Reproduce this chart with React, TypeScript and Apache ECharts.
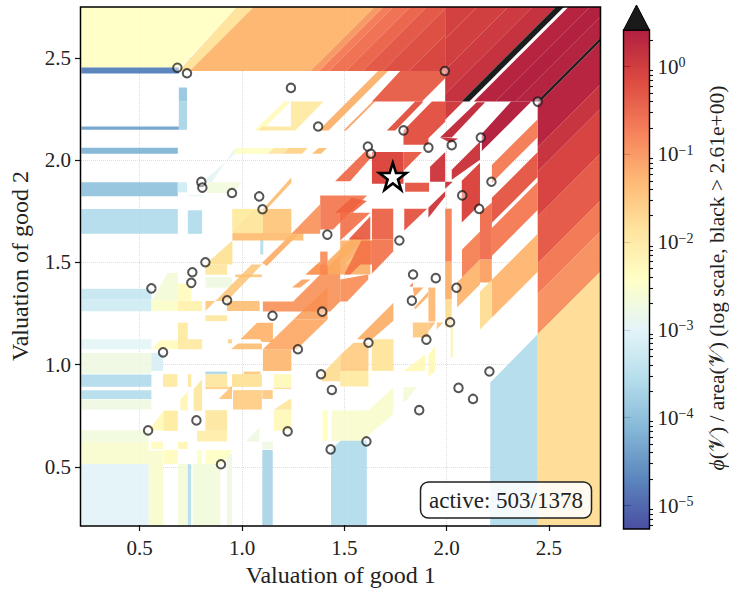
import React, { useEffect, useRef } from "react";
import * as echarts from "echarts";

// Each cell: [log10 of phi/area, then polygon vertices x,y,... in valuation units; 4 numbers = rectangle corners]
const outerCells: number[][] = [
  [-2.42, 0.215, 2.75, 0.975, 2.75, 0.699, 2.454, 0.215, 2.454],
  [-1.86, 0.975, 2.75, 1.057, 2.75, 0.744, 2.437, 0.69, 2.437],
  [-1.29, 1.057, 2.75, 1.647, 2.75, 1.334, 2.437, 0.744, 2.437],
  [-1.0, 1.647, 2.75, 1.69, 2.75, 1.377, 2.437, 1.334, 2.437],
  [-0.72, 1.69, 2.75, 1.739, 2.75, 1.426, 2.437, 1.377, 2.437],
  [-0.6, 1.739, 2.75, 1.82, 2.75, 1.507, 2.437, 1.426, 2.437],
  [-0.48, 1.82, 2.75, 1.902, 2.75, 1.589, 2.437, 1.507, 2.437],
  [-0.33, 1.902, 2.75, 1.993, 2.75, 1.993, 2.743, 1.687, 2.437, 1.589, 2.437],
  [-0.22, 1.993, 2.743, 1.993, 2.613, 1.817, 2.437, 1.687, 2.437],
  [-0.12, 1.993, 2.613, 1.993, 2.437, 1.817, 2.437],
  [-0.04, 1.993, 2.75, 2.15, 2.75, 1.993, 2.593],
  [-0.02, 2.15, 2.75, 2.3, 2.75, 1.993, 2.443, 1.993, 2.593],
  [0.04, 2.3, 2.75, 2.42, 2.75, 1.993, 2.323, 1.993, 2.443],
  [0.14, 2.42, 2.75, 2.534, 2.75, 2.072, 2.288, 1.993, 2.288, 1.993, 2.323],
  [0.6, 2.534, 2.75, 2.573, 2.75, 2.111, 2.288, 2.072, 2.288],
  [0.34, 2.595, 2.75, 2.7, 2.75, 2.238, 2.288, 2.133, 2.288],
  [0.39, 2.7, 2.75, 2.75, 2.75, 2.75, 2.7, 2.338, 2.288, 2.238, 2.288],
  [0.36, 2.75, 2.7, 2.75, 2.597, 2.441, 2.288, 2.338, 2.288],
  [0.6, 2.75, 2.597, 2.75, 2.58, 2.458, 2.288, 2.441, 2.288],
  [0.33, 2.75, 2.58, 2.75, 2.37, 2.445, 2.065, 2.445, 2.275],
  [0.12, 2.75, 2.37, 2.75, 2.25, 2.445, 1.945, 2.445, 2.065],
  [-0.08, 2.75, 2.25, 2.75, 2.03, 2.445, 1.725, 2.445, 1.945],
  [-0.36, 2.75, 2.03, 2.75, 1.8, 2.445, 1.495, 2.445, 1.725],
  [-0.68, 2.75, 1.8, 2.75, 1.65, 2.445, 1.345, 2.445, 1.495],
  [-0.92, 2.75, 1.65, 2.75, 1.453, 2.445, 1.148, 2.445, 1.345],
  [-1.78, 2.445, 1.148, 2.75, 1.453, 2.75, 0.215, 2.445, 0.215],
  [-3.55, 2.213, 0.912, 2.445, 1.148, 2.445, 0.215, 2.213, 0.215],
  [-3.55, 1.435, 0.586, 1.485, 0.63, 1.61, 0.63, 1.61, 0.215, 1.435, 0.215],
];

const leftCells: number[][] = [
  [-4.7, 0.215, 2.454, 0.691, 2.424],
  [-3.85, 0.691, 2.356, 0.731, 2.288],
  [-3.65, 0.691, 2.288, 0.731, 2.149],
  [-4.3, 0.215, 2.165, 0.691, 2.149],
  [-4.1, 0.215, 2.061, 0.686, 2.032],
  [-3.9, 0.215, 1.892, 0.686, 1.824],
  [-3.2, 0.686, 1.892, 0.731, 1.843],
  [-3.55, 0.215, 1.762, 0.686, 1.64],
  [-3.55, 0.735, 1.755, 0.805, 1.64],
  [-3.0, 0.735, 1.829, 0.805, 1.824],
  [-2.95, 0.805, 1.892, 0.853, 1.892, 0.962, 2.055, 0.992, 2.055],
  [-2.7, 0.829, 1.892, 1.0, 1.892, 0.951, 1.84, 0.829, 1.84],
  [-3.3, 0.215, 1.371, 0.557, 1.32],
  [-3.2, 0.215, 1.32, 0.557, 1.261],
  [-2.95, 0.215, 1.124, 0.557, 1.075],
  [-2.75, 0.215, 1.057, 0.557, 0.957],
  [-3.1, 0.557, 1.057, 0.614, 0.969],
  [-3.55, 0.215, 0.952, 0.557, 0.891],
  [-3.5, 0.215, 0.874, 0.557, 0.832],
  [-2.75, 0.215, 0.829, 0.557, 0.78],
  [-2.7, 0.215, 0.679, 0.544, 0.624],
  [-2.55, 0.215, 0.622, 0.544, 0.513],
  [-2.98, 0.215, 0.513, 0.544, 0.215],
  [-2.55, 0.544, 0.58, 0.614, 0.215],
  [-2.65, 0.687, 0.513, 0.735, 0.215],
  [-3.5, 0.735, 0.513, 0.751, 0.215],
  [-2.68, 0.759, 0.513, 0.894, 0.215],
  [-2.75, 0.927, 0.562, 0.951, 0.215],
  [-3.65, 1.099, 0.582, 1.15, 0.215],
  [-2.75, 1.099, 0.622, 1.15, 0.587],
  [-3.5, 1.089, 1.612, 1.104, 1.539],
  [-3.6, 0.821, 0.966, 0.927, 0.953],
];

const yellowCells: number[][] = [
  [-2.45, 0.951, 2.032, 0.972, 2.06, 1.155, 2.06, 1.125, 2.032],
  [-1.95, 1.125, 2.032, 1.155, 2.06, 1.228, 2.06, 1.203, 2.032],
  [-1.65, 1.203, 2.032, 1.228, 2.06, 1.321, 2.06, 1.293, 2.032],
  [-1.4, 1.342, 2.032, 1.374, 2.06, 1.415, 2.06, 1.386, 2.032],
  [-2.35, 1.06, 2.146, 1.207, 2.288, 1.239, 2.288, 1.098, 2.146],
  [-1.95, 1.098, 2.165, 1.239, 2.165, 1.239, 2.146, 1.081, 2.146],
  [-2.0, 1.239, 2.288, 1.399, 2.288, 1.26, 2.146, 1.239, 2.146],
  [-2.65, 0.557, 1.314, 0.637, 1.449, 0.687, 1.449, 0.687, 1.314],
  [-2.5, 0.557, 1.314, 0.687, 1.262],
  [-2.35, 0.687, 1.397, 0.739, 1.397, 0.752, 1.367, 0.752, 1.311, 0.687, 1.311],
  [-2.15, 0.687, 1.311, 0.805, 1.262],
  [-1.95, 0.821, 1.49, 0.927, 1.44],
  [-2.75, 0.821, 1.428, 0.951, 1.376],
  [-1.95, 0.821, 1.241, 0.927, 1.213],
  [-2.0, 0.687, 1.205, 0.735, 1.075],
  [-2.0, 0.735, 1.124, 0.805, 1.075],
  [-2.35, 0.557, 1.075, 0.6, 1.119, 0.687, 1.119, 0.687, 1.075],
  [-1.65, 0.931, 1.124, 0.951, 1.104],
  [-1.9, 0.953, 1.762, 1.102, 1.64],
  [-2.1, 0.953, 1.762, 1.065, 1.762, 0.953, 1.65],
  [-1.5, 1.102, 1.762, 1.241, 1.64],
  [-1.85, 0.821, 1.49, 0.953, 1.607, 0.953, 1.49],
  [-2.0, 0.614, 0.953, 0.684, 0.891],
  [-1.95, 0.735, 0.953, 0.752, 0.891],
  [-1.95, 0.821, 0.953, 0.927, 0.891],
  [-1.65, 0.821, 0.891, 0.951, 0.88],
  [-1.85, 0.951, 0.953, 1.097, 0.891],
  [-1.55, 1.008, 0.966, 1.09, 0.953],
  [-1.95, 0.764, 0.88, 0.805, 0.928, 0.805, 0.774, 0.764, 0.774],
  [-2.25, 0.699, 0.831, 0.735, 0.871, 0.735, 0.777, 0.699, 0.777],
  [-2.3, 0.544, 0.679, 0.617, 0.774, 0.686, 0.774, 0.686, 0.676],
  [-2.05, 0.617, 0.774, 0.686, 0.676],
  [-1.95, 0.821, 0.777, 0.927, 0.676],
  [-2.1, 0.78, 0.676, 0.927, 0.624],
  [-1.5, 0.886, 0.832, 0.951, 0.896, 0.951, 0.832],
  [-1.6, 0.956, 0.875, 1.097, 0.78],
  [-1.55, 1.099, 0.875, 1.15, 0.832],
  [-2.3, 1.155, 0.953, 1.241, 0.891],
  [-1.85, 1.155, 0.888, 1.241, 0.88],
  [-1.95, 1.155, 0.779, 1.232, 0.831, 1.241, 0.831, 1.241, 0.779],
  [-2.3, 1.155, 0.777, 1.241, 0.676],
  [-2.75, 1.019, 0.624, 1.084, 0.692, 1.084, 0.624],
  [-2.45, 0.78, 0.582, 0.805, 0.513],
  [-2.45, 0.821, 0.582, 0.951, 0.582, 0.91, 0.513, 0.821, 0.513],
  [-2.35, 0.557, 0.622, 0.614, 0.587],
  [-2.35, 0.617, 0.582, 0.686, 0.513],
  [-2.25, 0.687, 0.622, 0.735, 0.587],
  [-2.55, 1.48, 0.627, 1.48, 0.774, 1.618, 0.777, 1.74, 0.888, 1.74, 0.757, 1.586, 0.627],
  [-2.4, 1.393, 0.777, 1.418, 0.627],
  [-2.55, 1.439, 0.777, 1.48, 0.627],
  [-2.0, 1.48, 0.969, 1.618, 0.893],
  [-1.9, 1.635, 1.124, 1.74, 0.969],
  [-1.6, 1.48, 0.969, 1.48, 1.047, 1.545, 1.107, 1.618, 1.107, 1.618, 0.969],
  [-1.8, 1.391, 0.919, 1.391, 0.954, 1.48, 1.047, 1.48, 0.919],
  [-2.3, 1.789, 0.969, 1.895, 1.05, 1.895, 0.969],
  [-2.3, 1.911, 0.938, 1.944, 0.967, 1.944, 1.089, 1.911, 1.05],
  [-2.65, 1.789, 0.816, 1.789, 0.889, 1.854, 0.889, 1.805, 0.825],
  [-2.2, 2.02, 1.186, 2.03, 1.036],
];

const orangeCells: number[][] = [
  [-1.55, 0.821, 1.262, 1.047, 1.49, 1.097, 1.49, 0.927, 1.311, 0.821, 1.311],
  [-1.45, 0.927, 1.311, 1.086, 1.262],
  [-1.5, 0.967, 1.441, 1.097, 1.428],
  [-1.45, 0.946, 1.075, 0.98, 1.103, 1.097, 1.103, 1.097, 1.075],
  [-1.3, 0.992, 1.124, 1.073, 1.205, 1.151, 1.205, 1.151, 1.11, 1.097, 1.11, 1.087, 1.124],
  [-1.35, 1.102, 1.075, 1.241, 0.969],
  [-1.2, 1.102, 1.075, 1.252, 1.221, 1.418, 1.221, 1.268, 1.075],
  [-1.15, 1.251, 1.221, 1.417, 1.377, 1.418, 1.221],
  [-1.0, 1.102, 1.26, 1.102, 1.309, 1.25, 1.309, 1.48, 1.539, 1.48, 1.309, 1.431, 1.26],
  [-1.15, 1.244, 1.377, 1.293, 1.416, 1.334, 1.416, 1.285, 1.377],
  [-0.9, 1.317, 1.441, 1.366, 1.49, 1.421, 1.49, 1.421, 1.441],
  [-1.25, 1.098, 1.498, 1.239, 1.637, 1.275, 1.637, 1.121, 1.482],
  [-1.1, 1.309, 1.441, 1.382, 1.506, 1.382, 1.441],
  [-0.95, 1.382, 1.553, 1.418, 1.441],
  [-1.25, 1.418, 1.441, 1.418, 1.506, 1.545, 1.628, 1.627, 1.612, 1.627, 1.441],
  [-1.4, 0.953, 1.643, 1.3, 1.607],
  [-1.0, 1.241, 1.64, 1.382, 1.785, 1.382, 1.64],
  [-1.4, 1.099, 1.758, 1.241, 1.915, 1.241, 1.89, 1.123, 1.763],
  [-1.25, 1.374, 2.146, 1.423, 2.146, 1.714, 2.437, 1.665, 2.437],
  [-1.1, 1.496, 2.146, 1.509, 2.146, 1.651, 2.288, 1.638, 2.288],
  [-1.3, 1.48, 1.607, 1.583, 1.607, 1.48, 1.504],
  [-1.55, 1.499, 1.49, 1.613, 1.607, 1.618, 1.56, 1.546, 1.49],
  [-1.25, 1.561, 1.124, 1.74, 1.303, 1.74, 1.214, 1.635, 1.124],
  [-1.2, 1.835, 1.377, 1.887, 1.377, 1.841, 1.329],
  [-1.3, 1.841, 1.28, 1.91, 1.358, 1.91, 1.333, 1.846, 1.27],
  [-1.35, 1.911, 1.377, 1.945, 1.211],
  [-1.45, 1.911, 1.206, 1.945, 1.206, 1.911, 1.162],
  [-1.55, 1.835, 1.206, 1.911, 1.133],
  [-1.5, 1.952, 1.172, 1.983, 1.206, 1.952, 1.206],
  [-1.25, 1.993, 1.504, 2.025, 1.319],
  [-1.8, 1.993, 1.319, 2.025, 1.186],
  [-1.1, 2.163, 1.514, 2.221, 1.402],
  [-1.3, 2.075, 1.426, 2.163, 1.514, 2.163, 1.392, 2.051, 1.28, 2.051, 1.402],
  [-1.3, 2.445, 1.64, 2.445, 1.454, 2.221, 1.23, 2.221, 1.415],
  [-1.8, 2.221, 1.415, 2.221, 1.23, 2.163, 1.172, 2.163, 1.358],
];

const redCells: number[][] = [
  [-0.75, 1.382, 1.827, 1.611, 1.827, 1.445, 1.661, 1.382, 1.661],
  [-0.6, 1.455, 1.743, 1.536, 1.816, 1.61, 1.8, 1.54, 1.743],
  [-0.7, 1.48, 1.743, 1.627, 1.743, 1.48, 1.607],
  [-0.45, 1.52, 1.612, 1.627, 1.726, 1.627, 1.612],
  [-0.5, 1.635, 1.763, 1.739, 1.612],
  [-0.7, 1.635, 1.612, 1.739, 1.612, 1.739, 1.553, 1.635, 1.446],
  [-0.75, 1.583, 1.607, 1.635, 1.607, 1.635, 1.49, 1.578, 1.49, 1.529, 1.441, 1.5, 1.441],
  [-0.95, 1.48, 1.416, 1.617, 1.441, 1.617, 1.416, 1.514, 1.309, 1.48, 1.309],
  [-0.6, 1.455, 1.897, 1.606, 2.048, 1.635, 2.018, 1.528, 1.897],
  [-0.42, 1.773, 2.437, 1.993, 2.437, 1.993, 2.401, 1.879, 2.287, 1.635, 2.287],
  [-0.3, 1.708, 2.146, 1.846, 2.287, 1.887, 2.287, 1.749, 2.146],
  [-0.28, 1.789, 2.076, 1.911, 2.076, 1.911, 2.108, 1.993, 2.189, 1.993, 2.287, 1.928, 2.287, 1.789, 2.146],
  [0.02, 1.993, 2.287, 2.082, 2.287, 1.993, 2.198],
  [0.18, 1.968, 2.111, 2.147, 2.284, 2.188, 2.284, 2.025, 2.111],
  [0.12, 1.968, 2.111, 2.056, 2.106, 2.02, 2.085],
  [0.35, 2.315, 2.287, 2.414, 2.287, 2.172, 2.045, 2.172, 2.13],
  [-0.15, 1.635, 2.04, 1.789, 1.885],
  [-0.4, 1.789, 2.04, 1.88, 2.04, 1.789, 1.949],
  [-0.35, 1.797, 1.89, 1.914, 1.846],
  [-0.35, 1.793, 1.763, 1.905, 1.763, 1.793, 1.656],
  [0.02, 1.919, 1.968, 1.993, 2.041, 1.993, 1.895, 1.919, 1.895],
  [0.0, 1.911, 1.768, 1.993, 1.848, 1.993, 1.823, 1.911, 1.719],
  [0.02, 1.993, 1.895, 2.03, 1.895, 1.993, 1.86],
  [0.06, 2.025, 1.954, 2.163, 2.092, 2.163, 2.002, 2.025, 1.905],
  [-0.14, 2.074, 1.695, 2.074, 1.9, 2.163, 1.988, 2.163, 1.783],
  [-0.8, 1.993, 1.763, 2.025, 1.504],
  [-0.6, 2.163, 1.744, 2.221, 1.793, 2.221, 1.514, 2.163, 1.514],
  [-0.8, 2.075, 1.563, 2.163, 1.651, 2.163, 1.514, 2.075, 1.426],
  [-0.75, 2.445, 2.201, 2.445, 2.113, 2.221, 1.889, 2.221, 1.977],
  [-0.35, 2.445, 2.04, 2.445, 1.918, 2.221, 1.694, 2.221, 1.816],
  [-0.72, 2.445, 1.894, 2.445, 1.757, 2.221, 1.532, 2.221, 1.669],
  [-0.8, 1.817, 1.382, 1.835, 1.402, 1.835, 1.382],
];

const valuationX = [0.684, 0.731, 1.239, 1.372, 1.991, 2.445, 1.789, 1.615, 1.63, 1.911, 2.025, 2.167, 2.219, 2.076, 2.159, 1.769, 1.417, 0.951, 0.801, 0.806, 1.084, 1.1, 0.821, 0.757, 0.752, 0.557, 0.927, 1.149, 1.392, 0.614, 1.273, 1.386, 1.439, 0.777, 0.541, 1.223, 1.433, 0.897, 1.836, 1.947, 2.048, 1.83, 2.017, 1.901, 1.618, 2.209, 2.058, 2.129, 1.866, 1.608];
const valuationY = [2.453, 2.426, 2.354, 2.165, 2.437, 2.287, 2.146, 2.067, 2.032, 2.062, 2.074, 2.111, 1.895, 1.828, 1.762, 1.607, 1.636, 1.84, 1.894, 1.866, 1.823, 1.76, 1.501, 1.452, 1.4, 1.373, 1.315, 1.239, 1.259, 1.06, 1.075, 0.953, 0.876, 0.727, 0.678, 0.673, 0.585, 0.512, 1.441, 1.423, 1.376, 1.313, 1.207, 1.122, 1.107, 0.966, 0.886, 0.832, 0.777, 0.624];
const starPoint = [1.737, 1.921];

const axisTicks = [0.5, 1.0, 1.5, 2.0, 2.5];
const colorbarMajor = [1e-5, 1e-4, 1e-3, 1e-2, 1e-1, 1];
const colorbarMinor = [
  6e-6, 7e-6, 8e-6, 9e-6,
  2e-5, 3e-5, 4e-5, 5e-5, 6e-5, 7e-5, 8e-5, 9e-5,
  2e-4, 3e-4, 4e-4, 5e-4, 6e-4, 7e-4, 8e-4, 9e-4,
  2e-3, 3e-3, 4e-3, 5e-3, 6e-3, 7e-3, 8e-3, 9e-3,
  2e-2, 3e-2, 4e-2, 5e-2, 6e-2, 7e-2, 8e-2, 9e-2,
  2e-1, 3e-1, 4e-1, 5e-1, 6e-1, 7e-1, 8e-1, 9e-1, 2,
];
const colorMin = 5.4e-6;
const colorMax = 2.61;
const rampStops = ["#313695", "#4575b4", "#74add1", "#abd9e9", "#e0f3f8", "#ffffbf", "#fee090", "#fdae61", "#f46d43", "#d73027", "#a50026"];

const ALPHA = 0.88;
const hexRgb = (h: string) => [1, 3, 5].map((i) => parseInt(h.slice(i, i + 2), 16));
function rampColor(logV: number): string {
  if (logV >= Math.log10(colorMax)) return "rgba(20,20,20,0.96)";
  const lo = Math.log10(colorMin);
  const hi = Math.log10(colorMax);
  const t = Math.max(0, Math.min(1, (logV - lo) / (hi - lo))) * (rampStops.length - 1);
  const i = Math.min(rampStops.length - 2, Math.floor(t));
  const a = hexRgb(rampStops[i]);
  const b = hexRgb(rampStops[i + 1]);
  const f = t - i;
  const c = a.map((v, k) => Math.round(v + (b[k] - v) * f));
  return `rgba(${c[0]},${c[1]},${c[2]},${ALPHA})`;
}

const allCells = [...outerCells, ...leftCells, ...yellowCells, ...orangeCells, ...redCells];
const SERIF = "'Liberation Serif', 'DejaVu Serif', serif";
const STAR = "path://M50 0 L61.8 35.5 L100 35.5 L69.1 58 L80.9 95 L50 72 L19.1 95 L30.9 58 L0 35.5 L38.2 35.5 Z";

export default function App() {
  const ref = useRef<HTMLDivElement>(null);
  useEffect(() => {
    document.body.style.margin = "0";
    const chart = echarts.init(ref.current!, null, { renderer: "svg" });
    const axisText = { fontFamily: SERIF, fontSize: 21, color: "#222" };
    const plotAxis = (name: string, min: number, max: number, gap: number, margin: number) => ({
      type: "value",
      min,
      max,
      name,
      nameLocation: "middle",
      nameGap: gap,
      nameTextStyle: { fontFamily: SERIF, fontSize: 24, color: "#222" },
      axisLine: { show: false },
      axisTick: { show: true, length: 6, customValues: axisTicks, lineStyle: { color: "#111", width: 1.2 } },
      axisLabel: { ...axisText, margin, customValues: axisTicks, formatter: (v: number) => v.toFixed(1) },
      splitLine: { show: true, lineStyle: { color: "#dddddd", type: "dotted", width: 1 } },
    });
    const barAxis = (values: number[], len: number, labels: boolean) => ({
      type: "log",
      logBase: 10,
      gridIndex: 1,
      position: "right",
      min: colorMin,
      max: colorMax,
      axisLine: { show: false },
      axisTick: { show: true, length: len, customValues: values, lineStyle: { color: "#111", width: 1.1 } },
      splitLine: { show: false },
      minorTick: { show: false },
      axisLabel: labels
        ? {
            show: true,
            margin: 8,
            customValues: values,
            formatter: (v: number) => `{b|10}{s|${Math.round(Math.log10(v)).toString().replace("-", "−")}}`,
            rich: {
              b: { fontFamily: SERIF, fontSize: 21, color: "#222" },
              s: { fontFamily: SERIF, fontSize: 14, color: "#222", verticalAlign: "top", padding: [0, 0, 8, 0] },
            },
          }
        : { show: false },
    });
    chart.setOption({
      animation: false,
      backgroundColor: "#fff",
      grid: [
        { left: 80.5, top: 7, width: 520, height: 519 },
        { left: 623.5, top: 30, width: 26, height: 499 },
      ],
      xAxis: [
        plotAxis("Valuation of good 1", 0.213, 2.752, 38, 12),
        { type: "value", gridIndex: 1, min: 0, max: 1, show: false },
      ],
      yAxis: [
        plotAxis("Valuation of good 2", 0.215, 2.75, 49, 10),
        barAxis(colorbarMajor, 7, true),
        barAxis(colorbarMinor, 3.5, false),
      ],
      series: [
        {
          type: "custom",
          xAxisIndex: 0,
          yAxisIndex: 0,
          clip: true,
          silent: true,
          z: 2,
          data: allCells.map((c) => c[0]),
          renderItem: (params: any, api: any) => {
            const c = allCells[params.dataIndex];
            const v = c.slice(1);
            const raw =
              v.length === 4
                ? [[v[0], v[1]], [v[2], v[1]], [v[2], v[3]], [v[0], v[3]]]
                : Array.from({ length: v.length / 2 }, (_, i) => [v[2 * i], v[2 * i + 1]]);
            return {
              type: "polygon",
              shape: { points: raw.map((p) => api.coord(p)) },
              style: { fill: rampColor(c[0]) },
            };
          },
        },
        {
          type: "custom",
          xAxisIndex: 1,
          yAxisIndex: 1,
          silent: true,
          z: 2,
          data: [colorMin],
          renderItem: (_: any, api: any) => {
            const a = api.coord([0, colorMin]);
            const b = api.coord([1, colorMax]);
            return {
              type: "rect",
              shape: { x: a[0], y: b[1], width: b[0] - a[0], height: a[1] - b[1] },
              style: {
                fill: new echarts.graphic.LinearGradient(
                  0, 1, 0, 0,
                  rampStops.map((color, i) => ({ offset: i / (rampStops.length - 1), color })),
                ),
                opacity: ALPHA,
              },
            };
          },
        },
        {
          type: "scatter",
          xAxisIndex: 0,
          yAxisIndex: 0,
          z: 6,
          symbol: "circle",
          symbolSize: 8.5,
          silent: true,
          itemStyle: { color: "rgba(255,255,255,0.55)", borderColor: "rgba(20,20,20,0.9)", borderWidth: 2 },
          data: valuationX.map((x, i) => [x, valuationY[i]]),
        },
        {
          type: "scatter",
          xAxisIndex: 0,
          yAxisIndex: 0,
          z: 7,
          symbol: STAR,
          symbolSize: 27,
          silent: true,
          itemStyle: { color: "#fff", borderColor: "#000", borderWidth: 2.6, opacity: 1 },
          data: [starPoint],
        },
      ],
      graphic: [
        { type: "rect", z: 20, silent: true, shape: { x: 80.5, y: 7, width: 520, height: 519 }, style: { fill: "none", stroke: "#000", lineWidth: 1.5 } },
        { type: "rect", z: 20, silent: true, shape: { x: 623.5, y: 30, width: 26, height: 499 }, style: { fill: "none", stroke: "#000", lineWidth: 1.4 } },
        { type: "polygon", z: 20, silent: true, shape: { points: [[623.5, 30], [649.5, 30], [636.5, 5]] }, style: { fill: "#1a1a1a", stroke: "#000", lineWidth: 1 } },
        { type: "rect", z: 25, silent: true, shape: { x: 420.5, y: 482, width: 171, height: 36, r: 8 }, style: { fill: "rgba(255,255,255,0.85)", stroke: "#222", lineWidth: 1.5 } },
        { type: "text", z: 26, silent: true, x: 506, y: 500, style: { text: "active: 503/1378", fontFamily: SERIF, fontSize: 23, fill: "#222", align: "center", verticalAlign: "middle" } },
        {
          type: "text",
          z: 26,
          silent: true,
          x: 717,
          y: 278,
          rotation: Math.PI / 2,
          style: {
            text: "{i|ϕ}(𝒱) / area(𝒱) (log scale, black > 2.61e+00)",
            fontFamily: SERIF,
            fontSize: 21.5,
            fill: "#222",
            align: "center",
            verticalAlign: "middle",
            rich: { i: { fontFamily: SERIF, fontStyle: "italic", fontSize: 21.5, fill: "#222" } },
          },
        },
      ],
    });
    return () => chart.dispose();
  }, []);
  return <div ref={ref} style={{ width: 729, height: 592, position: "absolute", left: 0, top: 0 }} />;
}
